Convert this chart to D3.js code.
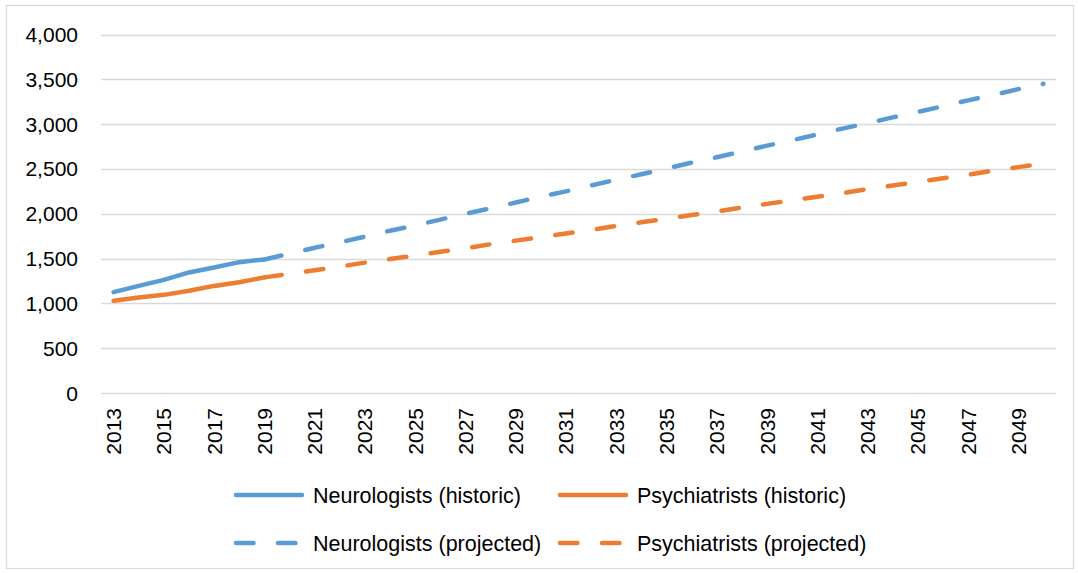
<!DOCTYPE html>
<html>
<head>
<meta charset="utf-8">
<script src="https://cdn.jsdelivr.net/npm/d3@7"></script>
<style>
  body { margin: 0; background: #fff; }
  text { font-family: "Liberation Sans", Arial, sans-serif; fill: #000; }
</style>
</head>
<body>
<div class="chart"></div>
<script>
"use strict";

// data
var years = d3.range(2013, 2051);
var histYears = [2013, 2014, 2015, 2016, 2017, 2018, 2019];
var neuroHist = [1125, 1195, 1262, 1345, 1400, 1460, 1490];
var psychHist = [1030, 1065, 1095, 1140, 1195, 1235, 1290];
var projYears = d3.range(2019, 2051);
var neuroProj = [1490, 1555, 1620, 1680, 1745, 1810, 1870, 1935, 2000, 2060, 2125, 2190, 2250, 2315, 2380, 2440,
                 2505, 2570, 2630, 2695, 2760, 2820, 2885, 2950, 3010, 3075, 3135, 3200, 3265, 3325, 3390, 3450];
var psychProj = [1290, 1330, 1370, 1410, 1455, 1495, 1535, 1575, 1615, 1660, 1700, 1740, 1780, 1820, 1865, 1905,
                 1945, 1985, 2025, 2070, 2110, 2150, 2190, 2230, 2275, 2315, 2355, 2395, 2435, 2480, 2520, 2560];
var yTicks = [0, 500, 1000, 1500, 2000, 2500, 3000, 3500, 4000];
var seriesNames = ["Neurologists (historic)", "Psychiatrists (historic)",
                   "Neurologists (projected)", "Psychiatrists (projected)"];

var width = 1078,
    height = 573;

var blue = "#5b9bd5",
    orange = "#ed7d31",
    dashed = "17.5 24.5";

var svg = d3.select(".chart")
          .append("svg")
          .attr("width", width)
          .attr("height", height);

// chart border
svg.append("rect")
    .attr("x", 6.5).attr("y", 5.5)
    .attr("width", 1067).attr("height", 563)
    .attr("fill", "none")
    .attr("stroke", "#d9d9d9")
    .attr("stroke-width", 1.2);

var x = d3.scalePoint()
    .domain(years)
    .range([101, 1056])
    .padding(0.5);

var y = d3.scaleLinear()
    .domain([0, 4000])
    .range([393, 34.5]);

// gridlines
svg.append("g")
    .selectAll("line")
    .data(yTicks)
    .enter().append("line")
        .attr("x1", 101)
        .attr("x2", 1056)
        .attr("y1", function(d){ return Math.round(y(d)) + 0.5; })
        .attr("y2", function(d){ return Math.round(y(d)) + 0.5; })
        .attr("stroke", "#d9d9d9")
        .attr("stroke-width", 1.5);

// y labels
var fmt = d3.format(",");
svg.append("g")
    .selectAll("text")
    .data(yTicks)
    .enter().append("text")
        .attr("x", 78)
        .attr("y", function(d){ return y(d); })
        .attr("dy", "0.36em")
        .attr("text-anchor", "end")
        .style("font-size", "21px")
        .text(function(d){ return fmt(d); });

// x labels, every other year
svg.append("g")
    .selectAll("text")
    .data(years.filter(function(d){ return (d - 2013) % 2 === 0; }))
    .enter().append("text")
        .attr("transform", function(d){ return "translate(" + x(d) + ",408) rotate(-90)"; })
        .attr("dy", "0.36em")
        .attr("text-anchor", "end")
        .style("font-size", "21px")
        .text(function(d){ return d; });

var line = d3.line()
    .x(function(d){ return x(d[0]); })
    .y(function(d){ return y(d[1]); });

function pairs(xs, vs){ return xs.map(function(d, i){ return [d, vs[i]]; }); }

var series = [
  { data: pairs(projYears, neuroProj), color: blue, dash: dashed },
  { data: pairs(projYears, psychProj), color: orange, dash: dashed },
  { data: pairs(histYears, neuroHist), color: blue, dash: null },
  { data: pairs(histYears, psychHist), color: orange, dash: null }
];

svg.append("g")
    .selectAll("path")
    .data(series)
    .enter().append("path")
        .attr("d", function(d){ return line(d.data); })
        .attr("fill", "none")
        .attr("stroke", function(d){ return d.color; })
        .attr("stroke-width", 4.5)
        .attr("stroke-linecap", "round")
        .attr("stroke-linejoin", "round")
        .attr("stroke-dasharray", function(d){ return d.dash; });

// legend
var legendItems = [
  { name: seriesNames[0], color: blue, dash: null, x: 236, y: 495 },
  { name: seriesNames[1], color: orange, dash: null, x: 560, y: 495 },
  { name: seriesNames[2], color: blue, dash: dashed, x: 236, y: 543 },
  { name: seriesNames[3], color: orange, dash: dashed, x: 560, y: 543 }
];

var legend = svg.append("g")
    .selectAll("g")
    .data(legendItems)
    .enter().append("g")
        .attr("transform", function(d){ return "translate(" + d.x + "," + d.y + ")"; });

legend.append("line")
    .attr("x1", 0).attr("x2", 66)
    .attr("y1", 0).attr("y2", 0)
    .attr("stroke", function(d){ return d.color; })
    .attr("stroke-width", 4.5)
    .attr("stroke-linecap", "round")
    .attr("stroke-dasharray", function(d){ return d.dash; });

legend.append("text")
    .attr("x", 77)
    .attr("dy", "0.36em")
    .style("font-size", "21.5px")
    .text(function(d){ return d.name; });
</script>
</body>
</html>
